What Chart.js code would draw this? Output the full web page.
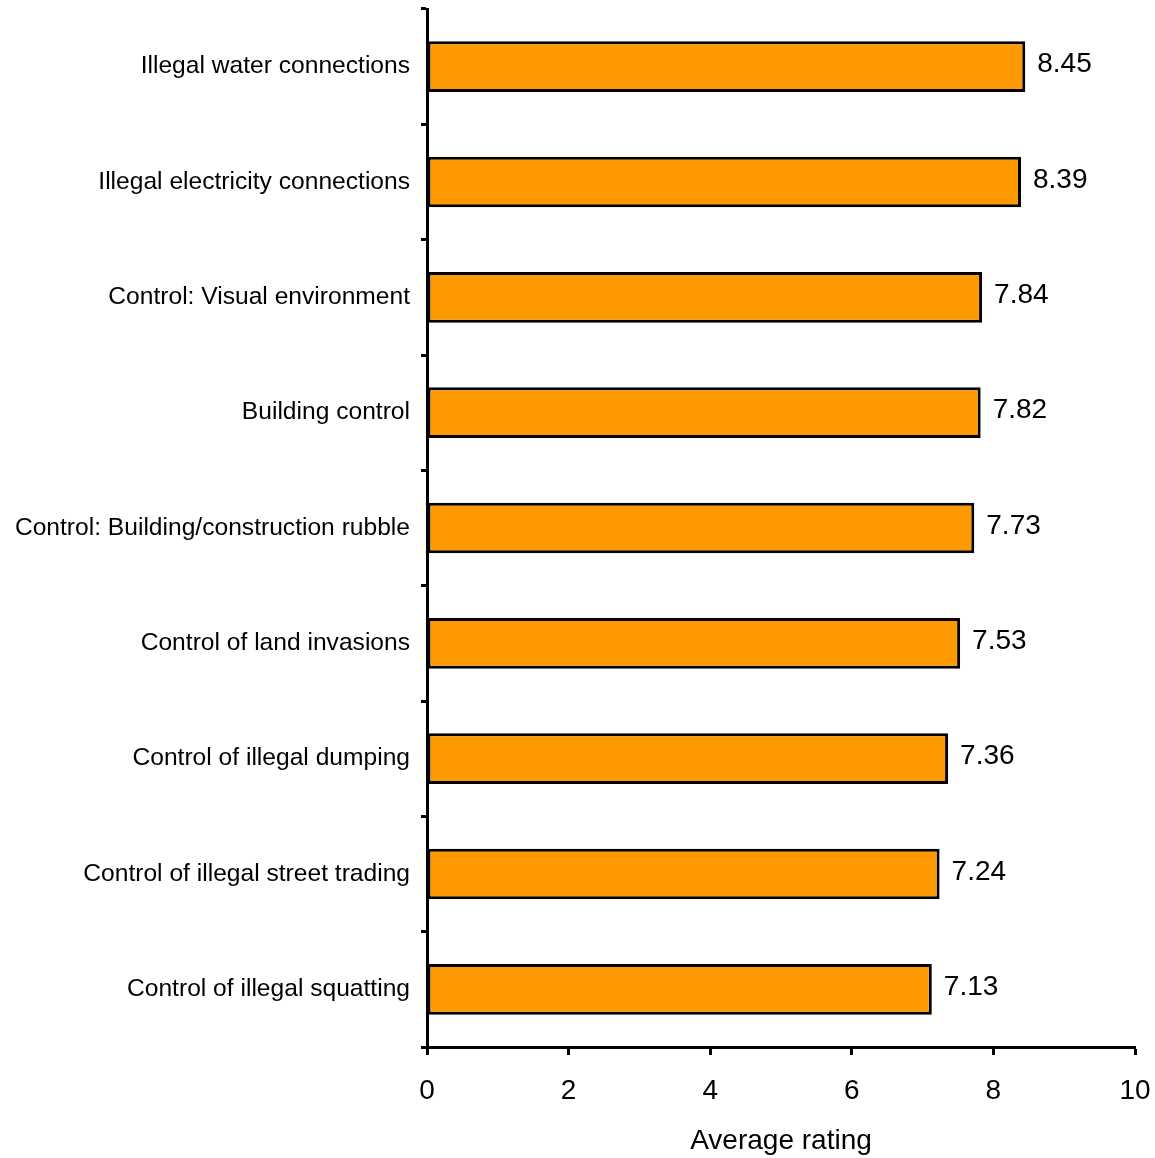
<!DOCTYPE html>
<html>
<head>
<meta charset="utf-8">
<script src="https://cdn.jsdelivr.net/npm/chart.js@4"></script>
<style>
  html, body { margin: 0; padding: 0; background: #fff; }
  #wrap { width: 1155px; height: 1158px; }
</style>
</head>
<body>
<div id="wrap"><canvas id="chart"></canvas></div>
<script>
// Categorias e valores
const categories = [
  'Illegal water connections',
  'Illegal electricity connections',
  'Control: Visual environment',
  'Building control',
  'Control: Building/construction rubble',
  'Control of land invasions',
  'Control of illegal dumping',
  'Control of illegal street trading',
  'Control of illegal squatting'
];
const ratings = [8.45, 8.39, 7.84, 7.82, 7.73, 7.53, 7.36, 7.24, 7.13];
const xTicks = [0, 2, 4, 6, 8, 10];

const fontFamily = '"Liberation Sans", Arial, sans-serif';

// Plugin simples para escrever o valor ao lado de cada barra
const valueLabels = {
  id: 'valueLabels',
  afterDatasetsDraw(chart) {
    const ctx = chart.ctx;
    const meta = chart.getDatasetMeta(0);
    ctx.save();
    ctx.font = '28px ' + fontFamily;
    ctx.fillStyle = '#000';
    ctx.textAlign = 'left';
    ctx.textBaseline = 'middle';
    meta.data.forEach((bar, i) => {
      ctx.fillText(ratings[i].toFixed(2), bar.x + 12, bar.y - 2);
    });
    ctx.restore();
  }
};

new Chart(document.getElementById('chart').getContext('2d'), {
  type: 'bar',
  data: {
    labels: categories,
    datasets: [{
      data: ratings,
      backgroundColor: '#FF9900',
      borderColor: '#000',
      borderWidth: 3,
      borderSkipped: false,
      barPercentage: 0.44,
      categoryPercentage: 1
    }]
  },
  options: {
    indexAxis: 'y',
    responsive: true,
    maintainAspectRatio: false,
    animation: false,
    layout: { padding: { top: 9, right: 20, left: 0, bottom: 0 } },
    plugins: {
      legend: { display: false },
      tooltip: { enabled: false }
    },
    scales: {
      x: {
        min: 0,
        max: 10,
        afterBuildTicks: axis => { axis.ticks = xTicks.map(v => ({ value: v })); },
        afterFit: axis => {
          axis.height = 111;
          axis.paddingLeft = 0;
          axis.paddingRight = 0;
        },
        border: { display: true, color: '#000', width: 3 },
        grid: {
          drawOnChartArea: false,
          drawTicks: true,
          tickLength: 8,
          tickColor: '#000',
          tickWidth: 3
        },
        ticks: {
          color: '#000',
          padding: 19,
          maxRotation: 0,
          font: { family: fontFamily, size: 28 }
        },
        title: {
          display: true,
          text: 'Average rating',
          color: '#000',
          padding: { top: 11, bottom: 0 },
          font: { family: fontFamily, size: 28 }
        }
      },
      y: {
        offset: true,
        afterFit: axis => {
          axis.width = 427;
          axis.paddingTop = 0;
          axis.paddingBottom = 0;
        },
        border: { display: true, color: '#000', width: 3 },
        grid: {
          offset: true,
          drawOnChartArea: false,
          drawTicks: true,
          tickLength: 6,
          tickColor: '#000',
          tickWidth: 3
        },
        ticks: {
          color: '#000',
          padding: 11,
          autoSkip: false,
          font: { family: fontFamily, size: 24.6 }
        }
      }
    }
  },
  plugins: [valueLabels]
});
</script>
</body>
</html>
